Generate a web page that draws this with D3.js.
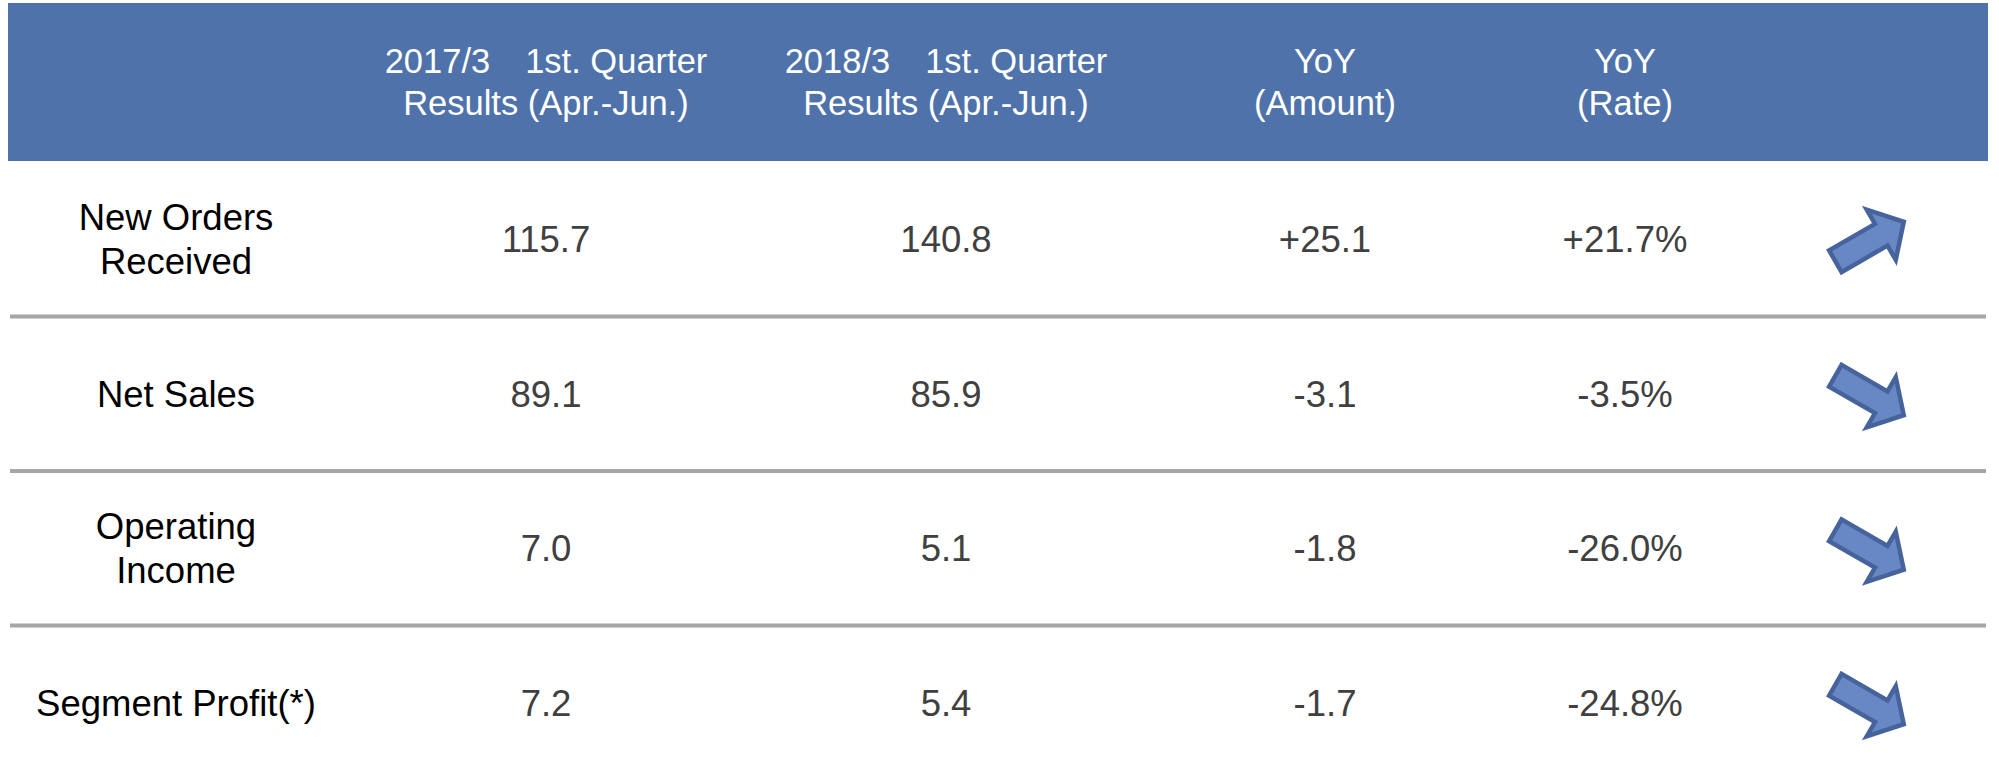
<!DOCTYPE html>
<html>
<head>
<meta charset="utf-8">
<script src="https://cdn.jsdelivr.net/npm/d3@7"></script>
<style>
  html, body { margin: 0; padding: 0; background: #fff; }
  svg { display: block; }
</style>
</head>
<body>
<div id="chart"></div>
<script>
// ============================================================
// Data
// ============================================================

const metrics = [
  ["New Orders", "Received"],
  ["Net Sales"],
  ["Operating", "Income"],
  ["Segment Profit(*)"],
];
const results2017 = [115.7, 89.1, 7.0, 7.2];
const results2018 = [140.8, 85.9, 5.1, 5.4];
const yoyAmount   = [25.1, -3.1, -1.8, -1.7];
const yoyRate     = [21.7, -3.5, -26.0, -24.8];

const columns = ["label", "r2017", "r2018", "amount", "rate", "arrow"];
const headers = [
  [],
  ["2017/3\u30001st. Quarter", "Results (Apr.-Jun.)"],
  ["2018/3\u30001st. Quarter", "Results (Apr.-Jun.)"],
  ["YoY", "(Amount)"],
  ["YoY", "(Rate)"],
  [],
];

// ============================================================
// Style
// ============================================================

const COLORS = {
  header:     "#4e72a9",
  headerText: "#ffffff",
  label:      "#000000",
  value:      "#404040",
  rule:       "#a6a6a6",
  arrowFill:  "#6787c5",
  arrowLine:  "#46639b",
};
const FONT = "'Liberation Sans', Arial, Helvetica, sans-serif";

const W = 1999;
const H = 780;
const left = 8, right = 1988;
const headTop = 3, headBottom = 161;

const loc = d3.formatLocale({
  decimal: ".", thousands: ",", grouping: [3], currency: ["$", ""], minus: "-",
});
const fmt    = loc.format(".1f");
const fmtAmt = loc.format("+.1f");
const fmtPct = (v) => loc.format("+.1f")(v) + "%";

const rows = metrics.map((m, i) => ({
  label: m,
  r2017: fmt(results2017[i]),
  r2018: fmt(results2018[i]),
  amount: fmtAmt(yoyAmount[i]),
  rate: fmtPct(yoyRate[i]),
  up: yoyAmount[i] >= 0,
}));

// ============================================================
// Scales
// ============================================================

const x = d3.scaleOrdinal()
  .domain(columns)
  .range([176, 546, 946, 1325, 1625, 1870]);

const y = d3.scaleBand()
  .domain(d3.range(rows.length))
  .range([headBottom + 1, H])
  .padding(0);

// ============================================================
// SVG
// ============================================================

const svg = d3.select("#chart")
  .append("svg")
  .attr("width", W)
  .attr("height", H)
  .attr("viewBox", `0 0 ${W} ${H}`);

svg.append("rect")
  .attr("width", W).attr("height", H)
  .attr("fill", "#fff");

// --- header band ---
svg.append("rect")
  .attr("x", left)
  .attr("y", headTop)
  .attr("width", right - left)
  .attr("height", headBottom - headTop)
  .attr("fill", COLORS.header);

// multi-line centred text, vertically centred on cy by cap height
function multiline(g, lines, cx, cy, size, lh, color) {
  const cap = size * 0.716;
  const first = cy - (lines.length - 1) * lh / 2 + cap / 2;
  const t = g.append("text")
    .attr("text-anchor", "middle")
    .attr("font-family", FONT)
    .attr("font-size", size + "px")
    .attr("fill", color);
  lines.forEach((s, i) => {
    t.append("tspan")
      .attr("x", cx)
      .attr("y", first + i * lh)
      .text(s);
  });
  return t;
}

const headG = svg.append("g").attr("class", "header");
columns.forEach((c, i) => {
  if (headers[i].length) {
    multiline(headG, headers[i], x(c), (headTop + headBottom) / 2, 34.5, 42, COLORS.headerText);
  }
});

// --- row rules ---
svg.append("g")
  .selectAll("line")
  .data(d3.range(1, rows.length))
  .join("line")
  .attr("x1", left + 2)
  .attr("x2", right - 2)
  .attr("y1", (i) => y(i))
  .attr("y2", (i) => y(i))
  .attr("stroke", COLORS.rule)
  .attr("stroke-width", 4);

// --- row cells ---
const bodyG = svg.append("g").attr("class", "body");
rows.forEach((r, i) => {
  const cy = y(i) + y.bandwidth() / 2;
  multiline(bodyG, r.label, x("label"), cy, 36.5, 44, COLORS.label);
  ["r2017", "r2018", "amount", "rate"].forEach((c) => {
    multiline(bodyG, [r[c]], x(c), cy, 36.5, 44, COLORS.value);
  });
});

// --- trend arrows ---
const arrowPath = d3.line()([
  [-40, -12.5], [13, -12.5], [13, -29], [39, 0],
  [13, 29], [13, 12.5], [-40, 12.5],
]) + "Z";

svg.append("g")
  .attr("class", "arrows")
  .selectAll("path")
  .data(rows)
  .join("path")
  .attr("d", arrowPath)
  .attr("transform", (d, i) =>
    `translate(${x("arrow")},${y(i) + y.bandwidth() / 2 + 2}) rotate(${d.up ? -30 : 30})`)
  .attr("fill", COLORS.arrowFill)
  .attr("stroke", COLORS.arrowLine)
  .attr("stroke-width", 4.5)
  .attr("stroke-linejoin", "miter");
</script>
</body>
</html>
